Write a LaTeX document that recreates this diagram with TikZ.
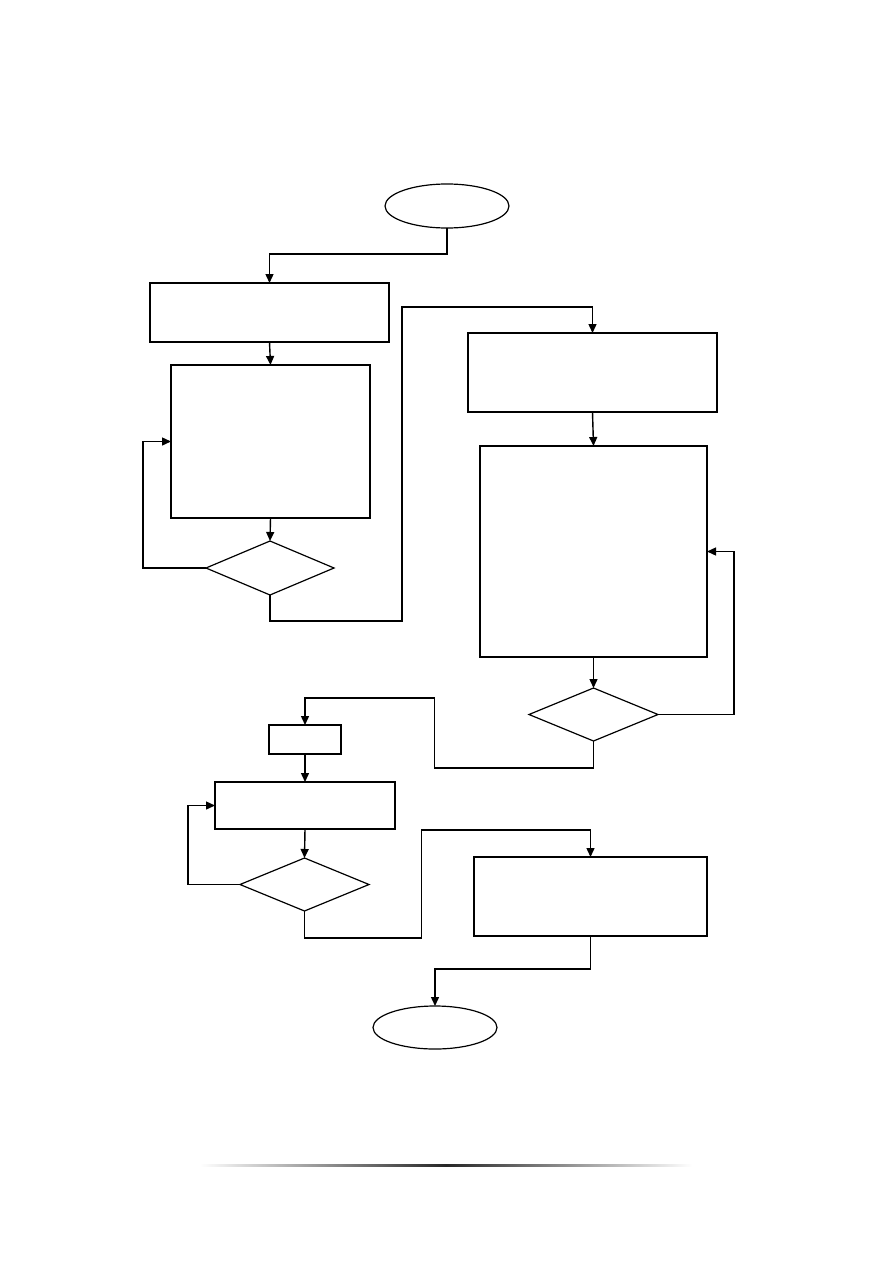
\documentclass[tikz,border=0pt]{standalone}
\usetikzlibrary{shapes.geometric,arrows.meta,calc}
\begin{document}
\begin{tikzpicture}[x=1pt,y=-1pt,
  every node/.style={inner sep=0pt,outer sep=0pt},
  stepbox/.style={draw,rectangle,line width=1.4pt},
  decide/.style={draw,diamond,line width=1.2pt},
  term/.style={draw,ellipse,line width=1.2pt},
  arr/.style={line width=1.4pt,-{Triangle[length=9pt,width=8pt]}},
  ln/.style={line width=1.4pt}]
\useasboundingbox (0,0) rectangle (893,1263);
\fill[white] (0,0) rectangle (893,1263);
% nodes
\node[term,minimum width=124,minimum height=44] (s) at (447,206) {};
\node[stepbox,minimum width=239,minimum height=59] (b1) at (269.5,312.5) {};
\node[stepbox,minimum width=199,minimum height=153] (b2) at (270.5,441.5) {};
\node[decide,minimum width=128,minimum height=54] (d1) at (270,568) {};
\node[stepbox,minimum width=249,minimum height=79] (b3) at (592.5,372.5) {};
\node[stepbox,minimum width=227,minimum height=211] (b4) at (593.5,551.5) {};
\node[decide,minimum width=129,minimum height=53] (d2) at (593.5,714.5) {};
\node[stepbox,minimum width=72,minimum height=29] (b5) at (305,739.5) {};
\node[stepbox,minimum width=180,minimum height=47] (b6) at (305,805.5) {};
\node[decide,minimum width=129,minimum height=53] (d3) at (304.5,884.5) {};
\node[stepbox,minimum width=233,minimum height=79] (b7) at (590.5,896.5) {};
\node[term,minimum width=124,minimum height=43] (e) at (435,1027.5) {};
% connectors
\draw[arr] (s.south) -- ++(0,26) -| (b1.north);
\draw[arr] (b1.south) -- (b2.north);
\draw[arr] (b2.south) -- (d1.north);
\draw[arr] (d1.west) -- ++(-63,0) |- (b2.west);
\draw[arr] (d1.south) -- ++(0,26) -- ++(132,0) |- ($(b3.north)+(0,-26)$) -- (b3.north);
\draw[arr] (b3.south) -- (b4.north);
\draw[arr] (b4.south) -- (d2.north);
\draw[arr] (d2.east) -- ++(76,0) |- (b4.east);
\draw[arr] (d2.south) -- ++(0,27) -- ++(-159,0) |- ($(b5.north)+(0,-27)$) -- (b5.north);
\draw[arr] (b5.south) -- (b6.north);
\draw[arr] (b6.south) -- (d3.north);
\draw[arr] (d3.west) -- ++(-52,0) |- (b6.west);
\draw[arr] (d3.south) -- ++(0,27) -- ++(117,0) |- ($(b7.north)+(0,-27)$) -- (b7.north);
\draw[arr] (b7.south) -- ++(0,33) -| (e.north);
% footer rule
\shade[left color=white,right color=white,middle color=black!85] (200,1164.2) rectangle (692,1166);
\end{tikzpicture}
\end{document}
